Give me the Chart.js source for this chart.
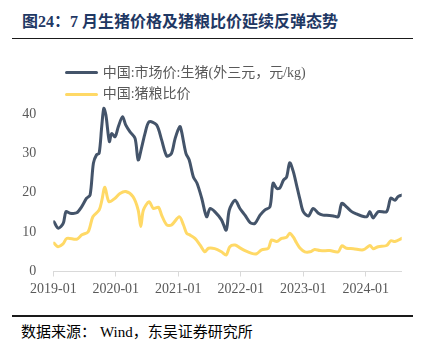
<!DOCTYPE html>
<html>
<head>
<meta charset="utf-8">
<script src="https://cdn.jsdelivr.net/npm/chart.js@4/dist/chart.umd.min.js"></script>
<style>
  html, body { margin:0; padding:0; background:#fff; }
  #wrap { position:relative; width:424px; height:353px; overflow:hidden; background:#fff; }
  #title { position:absolute; left:22px; top:12px; font:bold 16px/20px "Liberation Serif","Noto Sans CJK SC",sans-serif; color:#1F3864; white-space:nowrap; }
  .rule { position:absolute; left:12px; width:401px; background:#1a1a1a; }
  #chartBox { position:absolute; left:0; top:45px; width:424px; height:260px; }
  .leg { position:absolute; left:65px; height:20px; }
  .leg .sw { position:absolute; left:0; top:8.5px; width:33px; height:3px; border-radius:1.5px; }
  .leg .tx { position:absolute; left:37.7px; top:0; font:14px/20px "Liberation Serif","Noto Sans CJK SC",sans-serif; color:#595959; white-space:nowrap; }
  #source { position:absolute; left:21px; top:322px; font:15px/20px "Liberation Serif","Noto Sans CJK SC",serif; color:#000; white-space:nowrap; }
</style>
</head>
<body>
<div id="wrap">
  <div id="title">图24：7 月生猪价格及猪粮比价延续反弹态势</div>
  <div class="rule" style="top:37.5px;height:1.5px;"></div>
  <div id="chartBox"><canvas id="c" width="424" height="260"></canvas></div>
  <div class="leg" style="top:62.7px;"><div class="sw" style="background:#44546A"></div><div class="tx" id="l0"></div></div>
  <div class="leg" style="top:84.3px;"><div class="sw" style="background:#FFD966"></div><div class="tx" id="l1"></div></div>
  <div class="rule" style="top:314.7px;height:2px;"></div>
  <div id="source">数据来源：<span style="margin-left:4px">Wind</span>，东吴证券研究所</div>
</div>
<script>
// ---- Data ----
const seriesNames = ["中国:市场价:生猪(外三元，元/kg)", "中国:猪粮比价"];

const pigDates = ["2019-01-05","2019-01-30","2019-02-28","2019-03-14","2019-04-07","2019-05-16","2019-06-14","2019-07-13","2019-08-03","2019-08-22","2019-09-10","2019-09-25","2019-10-10","2019-10-22","2019-11-04","2019-11-24","2019-12-07","2019-12-27","2020-01-16","2020-02-10","2020-02-28","2020-03-22","2020-04-22","2020-05-10","2020-06-01","2020-06-19","2020-07-13","2020-08-26","2020-09-25","2020-10-25","2020-11-22","2020-12-13","2021-01-10","2021-01-20","2021-02-15","2021-03-04","2021-03-28","2021-04-19","2021-05-16","2021-06-14","2021-07-04","2021-08-01","2021-09-10","2021-10-07","2021-10-25","2021-11-28","2021-12-26","2022-01-25","2022-02-25","2022-03-22","2022-04-22","2022-05-19","2022-06-19","2022-07-07","2022-07-28","2022-08-16","2022-09-07","2022-09-25","2022-10-13","2022-11-04","2022-11-22","2022-12-13","2023-01-01","2023-02-01","2023-02-28","2023-03-28","2023-04-25","2023-05-16","2023-06-25","2023-07-22","2023-08-13","2023-09-10","2023-10-10","2023-11-08","2023-12-07","2024-01-07","2024-01-25","2024-02-13","2024-03-13","2024-05-01","2024-05-25","2024-06-19","2024-07-07","2024-07-28"];
const pigValues = [12.6,11.0,12.2,15.2,14.8,14.9,16.4,18.6,19.4,27.5,29.6,30.0,36.8,41.4,39.7,33.0,35.0,34.2,36.8,39.3,37.2,35.5,33.8,28.3,31.7,35.0,38.0,37.2,33.4,29.3,30.0,33.8,36.8,35.5,30.0,28.3,24.0,22.4,18.6,13.9,16.0,15.2,13.1,10.5,15.6,18.1,16.0,14.3,12.4,12.2,14.3,15.6,16.4,22.4,21.1,21.2,23.2,24.0,27.6,25.3,22.0,18.1,15.2,14.1,16.0,14.8,14.3,14.3,14.1,13.9,17.3,16.4,15.2,14.6,14.1,13.9,15.2,13.6,15.2,15.2,18.6,18.1,19.0,19.4];

const ratioDates = ["2019-01-05","2019-01-28","2019-02-27","2019-03-19","2019-05-16","2019-06-16","2019-07-22","2019-08-19","2019-09-25","2019-10-11","2019-10-28","2019-11-22","2019-12-27","2020-01-25","2020-02-28","2020-04-10","2020-05-10","2020-05-25","2020-06-10","2020-07-13","2020-08-07","2020-09-07","2020-09-25","2020-10-25","2020-11-22","2021-01-07","2021-02-01","2021-02-19","2021-03-07","2021-04-07","2021-05-07","2021-06-04","2021-06-25","2021-08-01","2021-09-10","2021-10-07","2021-10-28","2021-11-28","2021-12-26","2022-01-25","2022-03-04","2022-04-02","2022-05-01","2022-06-10","2022-06-28","2022-07-28","2022-08-26","2022-09-25","2022-10-13","2022-11-04","2022-11-22","2022-12-13","2023-01-10","2023-02-10","2023-03-07","2023-04-07","2023-06-04","2023-07-22","2023-08-13","2023-09-10","2023-10-19","2023-12-16","2024-01-25","2024-02-13","2024-03-13","2024-05-01","2024-05-25","2024-06-19","2024-07-28"];
const ratioValues = [7.2,6.3,7.0,8.4,8.2,9.3,10.1,13.9,15.6,18.1,21.4,17.7,18.6,19.8,20.3,19.0,15.6,11.4,15.6,17.7,16.0,16.3,14.3,11.8,11.8,13.9,11.8,9.7,9.3,8.4,6.7,5.0,5.9,5.8,5.0,4.2,6.3,6.7,6.0,5.3,4.6,4.5,5.5,5.9,8.0,7.6,8.4,8.7,9.7,8.7,7.3,5.9,5.0,5.0,5.6,5.3,5.3,5.0,6.5,5.9,5.8,5.5,6.6,5.8,6.3,6.6,7.8,7.6,8.4];

const xTickLabels = ["2019-01","2020-01","2021-01","2022-01","2023-01","2024-01"];
const yTickValues = [0,10,20,30,40];

// ---- helpers ----
function toMonths(s){ const p = s.split('-').map(Number); return (p[0]-2019)*12 + (p[1]-1) + ((p[2]||1)-1)/30; }
function pts(dates, vals){ return dates.map((d,i)=>({x: toMonths(d), y: vals[i]})); }
const xTickValues = xTickLabels.map(toMonths);
const xMax = Math.max(toMonths(pigDates[pigDates.length-1]), toMonths(ratioDates[ratioDates.length-1]));

document.getElementById('l0').textContent = seriesNames[0];
document.getElementById('l1').textContent = seriesNames[1];

const tickFont = { family: "'Liberation Serif', serif", size: 14 };

new Chart(document.getElementById('c'), {
  type: 'line',
  data: {
    datasets: [
      { label: seriesNames[0], data: pts(pigDates, pigValues), borderColor: '#44546A', borderWidth: 3, pointRadius: 0, tension: 0.3, borderJoinStyle: 'round', borderCapStyle: 'round' },
      { label: seriesNames[1], data: pts(ratioDates, ratioValues), borderColor: '#FFD966', borderWidth: 3, pointRadius: 0, tension: 0.3, borderJoinStyle: 'round', borderCapStyle: 'round' }
    ]
  },
  options: {
    responsive: false,
    animation: false,
    layout: { padding: { top: 29.5, right: 22.3, left: 0, bottom: 0 } },
    plugins: { legend: { display: false }, tooltip: { enabled: false } },
    scales: {
      x: {
        type: 'linear', min: 0, max: xMax,
        afterBuildTicks: s => { s.ticks = xTickValues.map(v => ({ value: v })); },
        afterFit: s => { s.height = 33.5; },
        ticks: { autoSkip: false, maxRotation: 0, padding: 4, color: '#595959', font: tickFont,
          callback: (v) => { const i = xTickValues.findIndex(t => Math.abs(t - v) < 1e-6); return i >= 0 ? xTickLabels[i] : ''; } },
        grid: { drawOnChartArea: false, drawTicks: true, tickLength: 5, color: '#D9D9D9', lineWidth: 1 },
        border: { display: true, color: '#D9D9D9', width: 1 }
      },
      y: {
        type: 'linear', min: 0, max: 50,
        afterBuildTicks: s => { s.ticks = yTickValues.map(v => ({ value: v })); },
        afterFit: s => { s.width = 53.3; },
        ticks: { padding: 17, color: '#595959', font: tickFont },
        grid: { display: false, drawTicks: false },
        border: { display: false }
      }
    }
  }
});
</script>
</body>
</html>
